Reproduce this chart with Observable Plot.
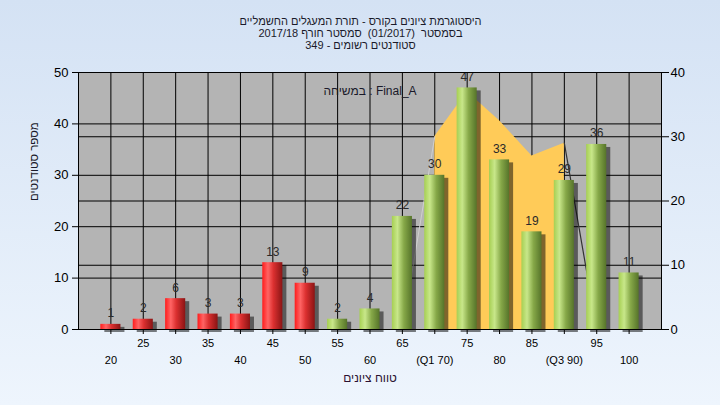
<!DOCTYPE html>
<html>
<head>
<meta charset="utf-8">
<script src="https://cdn.jsdelivr.net/npm/d3@7"></script>
<script src="https://cdn.jsdelivr.net/npm/@observablehq/plot@0.6"></script>
<style>
  html, body { margin: 0; padding: 0; }
  body { width: 720px; height: 405px; overflow: hidden;
         background: linear-gradient(#d4e2f4, #eef5fd); font-family: "Liberation Sans", Arial, sans-serif; }
  #chart svg { display: block; background: transparent; }
</style>
</head>
<body>
<div id="chart"></div>
<script>
// ---- data ----
const grades = [20, 25, 30, 35, 40, 45, 50, 55, 60, 65, 70, 75, 80, 85, 90, 95, 100];
const counts = [1, 2, 6, 3, 3, 13, 9, 2, 4, 22, 30, 47, 33, 19, 29, 36, 11];
const passGrade = 55;
const tickRowOne = [25, 35, 45, 55, 65, 75, 85, 95];
const tickRowTwo = [20, 30, 40, 50, 60, 70, 80, 90, 100];
const specialTickLabels = {70: "(Q1 70)", 90: "(Q3 90)"};
const leftTicks = [0, 10, 20, 30, 40, 50];
const rightTicks = [0, 10, 20, 30, 40];
// secondary-axis curve (interquartile region)
const curveGrades = [70, 75, 80, 85, 90];
const curveValues = [30, 37, 32.5, 27, 29];
const edgeInGrades = [65, 70];
const edgeInValues = [0, 30];
const edgeOutGrades = [90, 95];
const edgeOutValues = [29, 0];

const titleLines = [
  "היסטוגרמת ציונים בקורס - תורת המעגלים החשמליים",
  "בסמסטר  (01/2017)  סמסטר חורף 2017/18",
  "סטודנטים רשומים - 349"
];
const yTitle = "מספר סטודנטים";
const xTitle = "טווח ציונים";
const seriesNote = "במשיחה : Final_A";

// ---- derived tables ----
const rightToLeft = 50 / 40;
const bars = grades.map((g, i) => ({grade: g, count: counts[i]}));
const failBars = bars.filter(d => d.grade < passGrade);
const passBars = bars.filter(d => d.grade >= passGrade);
const curve = curveGrades.map((g, i) => ({grade: g, v: curveValues[i] * rightToLeft}));
const edgeIn = edgeInGrades.map((g, i) => ({grade: g, v: edgeInValues[i] * rightToLeft}));
const edgeOut = edgeOutGrades.map((g, i) => ({grade: g, v: edgeOutValues[i] * rightToLeft}));
const halfW = 1.55;
const fmtTick = d => specialTickLabels[d] ?? String(d);

const chart = Plot.plot({
  width: 720,
  height: 405,
  marginTop: 72,
  marginLeft: 78,
  marginRight: 59,
  marginBottom: 76,
  style: {fontFamily: "Liberation Sans, Arial, sans-serif", background: "transparent", color: "#111"},
  x: {domain: [15, 105]},
  y: {domain: [0, 50]},
  marks: [
    Plot.frame({fill: "#b4b4b4"}),
    Plot.gridX(grades, {stroke: "#000", strokeOpacity: 1}),
    Plot.gridY(leftTicks, {stroke: "#000", strokeOpacity: 1}),
    Plot.gridY(rightTicks.map(r => r * rightToLeft), {stroke: "#000", strokeOpacity: 1}),
    Plot.areaY(curve, {x: "grade", y: "v", fill: "#ffcb58"}),
    Plot.line(edgeIn, {x: "grade", y: "v", stroke: "#cfcfcf", strokeWidth: 1}),
    Plot.line(edgeOut, {x: "grade", y: "v", stroke: "#333", strokeWidth: 1.2}),
    Plot.rectY(bars, {x1: d => d.grade - halfW, x2: d => d.grade + halfW, y: "count",
      fill: "#000", fillOpacity: 0.5, dx: 4, dy: 3, ariaLabel: "shadow"}),
    Plot.rectY(failBars, {x1: d => d.grade - halfW, x2: d => d.grade + halfW, y: "count", fill: "url(#redGrad)"}),
    Plot.rectY(passBars, {x1: d => d.grade - halfW, x2: d => d.grade + halfW, y: "count", fill: "url(#greenGrad)"}),
    Plot.text(bars, {x: "grade", y: "count", text: d => String(d.count), dy: -11, fontSize: 12, fill: "#2a2a2a"}),
    Plot.axisY({anchor: "left", ticks: leftTicks, tickSize: 6, tickPadding: 4, fontSize: 13, color: "#000", label: null}),
    Plot.axisY({anchor: "right", ticks: rightTicks.map(r => r * rightToLeft), tickFormat: d => String(Math.round(d / rightToLeft)),
      tickSize: 7, tickPadding: 2, fontSize: 13, color: "#000", label: null}),
    Plot.axisX({anchor: "bottom", ticks: tickRowOne, tickFormat: fmtTick, tickSize: 5, tickPadding: 5, fontSize: 11, color: "#000", label: null}),
    Plot.axisX({anchor: "bottom", ticks: tickRowTwo, tickFormat: fmtTick, tickSize: 5, tickPadding: 22, fontSize: 11, color: "#000", label: null}),
    Plot.frame({stroke: "#000", strokeWidth: 1}),
    Plot.text([seriesNote], {frameAnchor: "top", dy: 14, fontSize: 12, fill: "#1a1a2a"}),
    Plot.text([yTitle], {frameAnchor: "left", dx: -44, rotate: -90, fontSize: 11.5, fill: "#1a1a2a"}),
    Plot.text([xTitle], {frameAnchor: "bottom", dy: 52, fontSize: 12, fill: "#2a1030"}),
    Plot.text([titleLines[0]], {frameAnchor: "top", dx: -9.5, dy: -55, fontSize: 11, fill: "#1a1a2a"}),
    Plot.text([titleLines[1]], {frameAnchor: "top", dx: -9.5, dy: -43, fontSize: 11, fill: "#1a1a2a"}),
    Plot.text([titleLines[2]], {frameAnchor: "top", dx: -9.5, dy: -31, fontSize: 11, fill: "#1a1a2a"})
  ]
});

// gradients and blur filter for the 3D-looking bars
const svg = d3.select(chart);
const defs = svg.insert("defs", ":first-child");
const red = defs.append("linearGradient").attr("id", "redGrad").attr("x1", 0).attr("x2", 1).attr("y1", 0).attr("y2", 0);
[["0%", "#ff1c1c"], ["28%", "#ff6464"], ["55%", "#dc3030"], ["100%", "#8a1414"]].forEach(([o, c]) => red.append("stop").attr("offset", o).attr("stop-color", c));
const green = defs.append("linearGradient").attr("id", "greenGrad").attr("x1", 0).attr("x2", 1).attr("y1", 0).attr("y2", 0);
[["0%", "#a6cf52"], ["28%", "#c8e78a"], ["60%", "#86a848"], ["100%", "#56742a"]].forEach(([o, c]) => green.append("stop").attr("offset", o).attr("stop-color", c));
defs.append("filter").attr("id", "blur").attr("x", "-20%").attr("y", "-20%").attr("width", "140%").attr("height", "140%")
  .append("feGaussianBlur").attr("stdDeviation", 2.2);
svg.selectAll("g[aria-label='shadow']").attr("filter", "url(#blur)");

document.getElementById("chart").appendChild(chart);
</script>
</body>
</html>
